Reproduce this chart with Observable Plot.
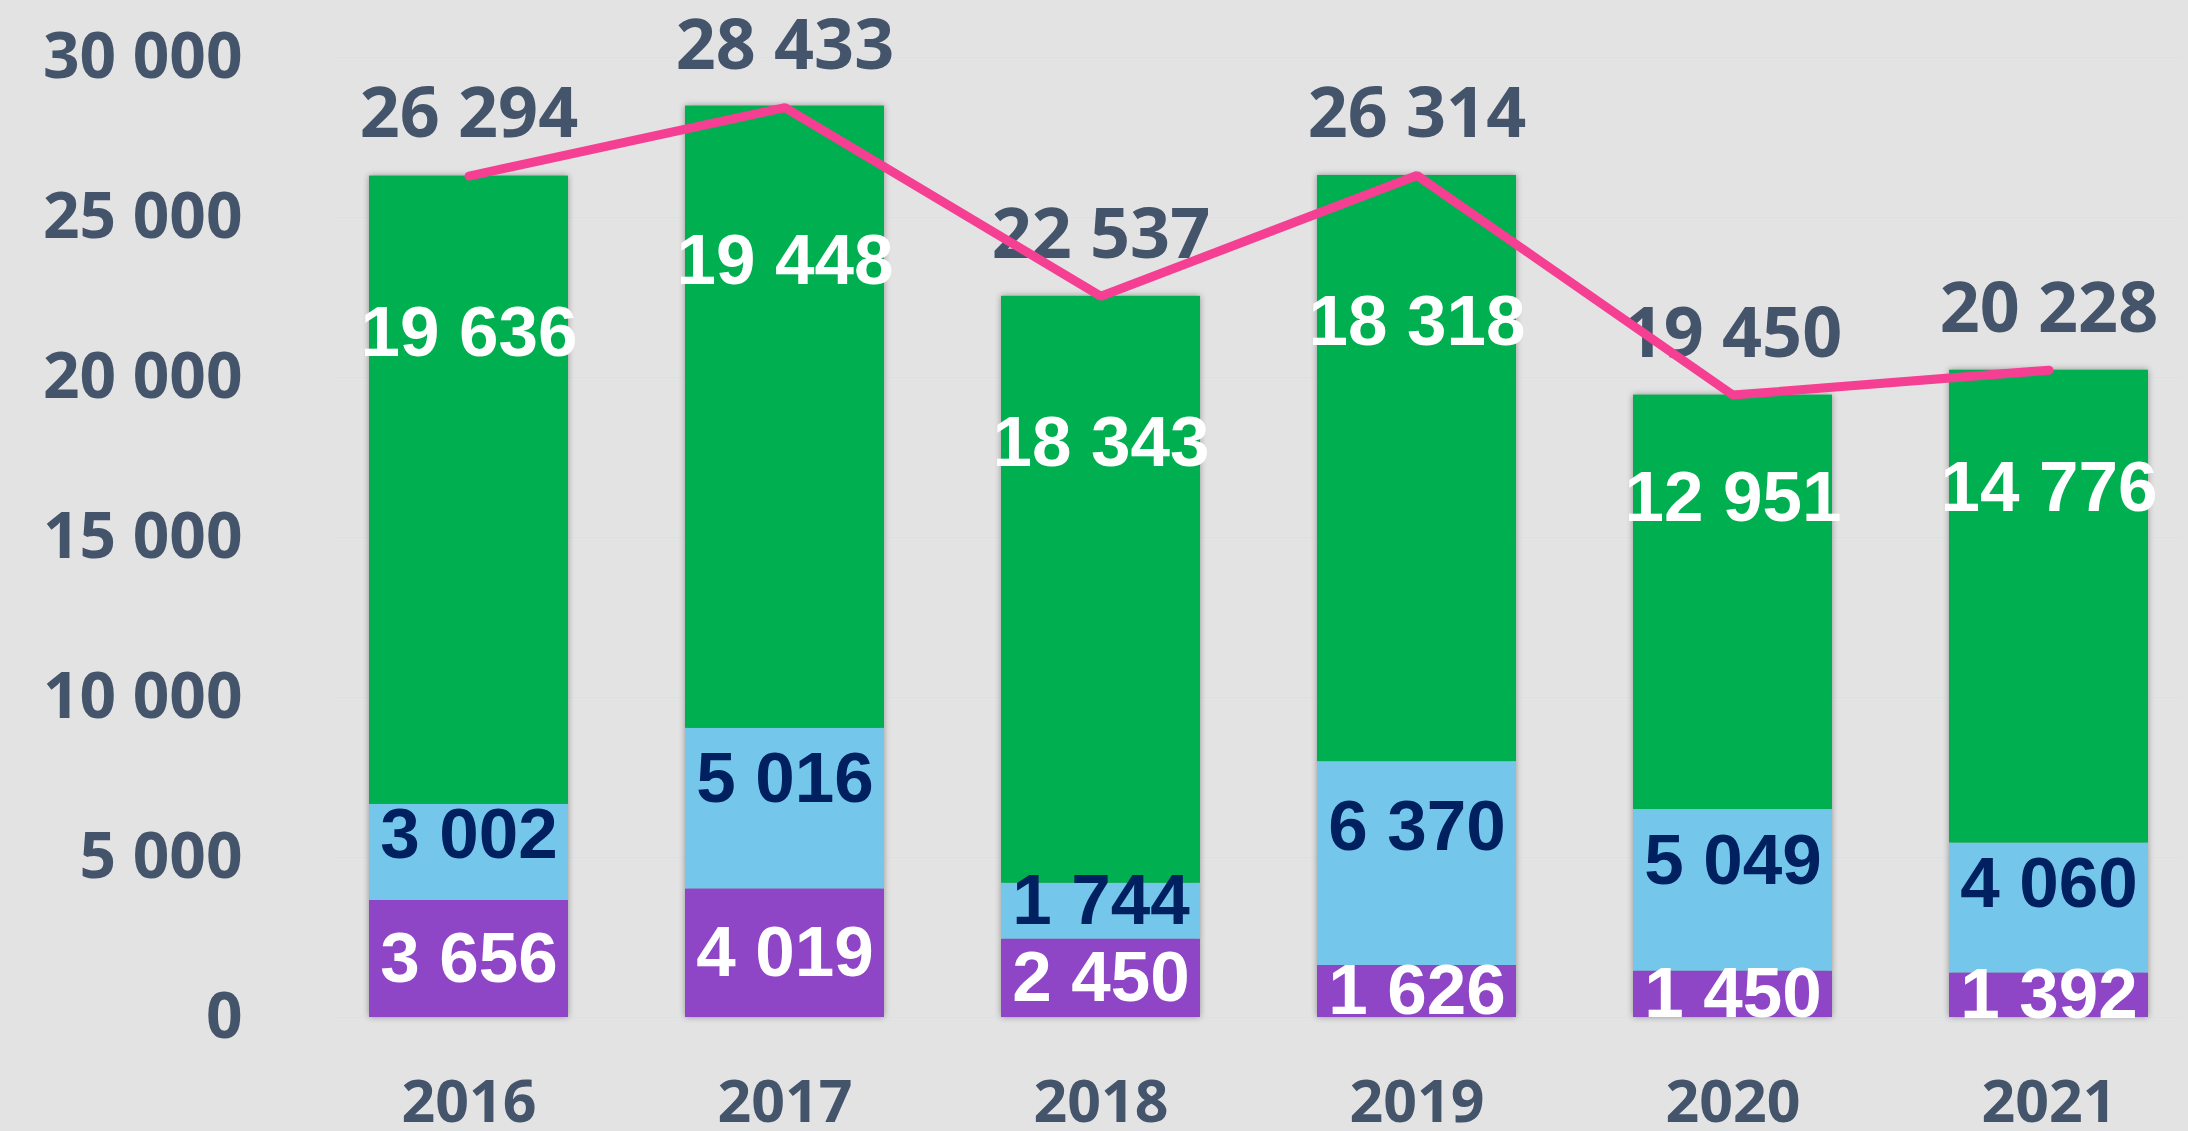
<!DOCTYPE html>
<html>
<head>
<meta charset="utf-8">
<script src="https://cdn.jsdelivr.net/npm/d3@7"></script>
<script src="https://cdn.jsdelivr.net/npm/@observablehq/plot@0.6"></script>
<style>
  html, body { margin: 0; padding: 0; background: #E3E3E3; }
  #chart svg { display: block; }
  #chart g[aria-label="bar"] { filter: drop-shadow(0 0 3px rgba(0,0,0,0.35)); }
</style>
</head>
<body>
<div id="chart"></div>
<script>
// ---- data ----
const years = ["2016", "2017", "2018", "2019", "2020", "2021"];
const purpleValues = [3656, 4019, 2450, 1626, 1450, 1392];
const blueValues = [3002, 5016, 1744, 6370, 5049, 4060];
const greenValues = [19636, 19448, 18343, 18318, 12951, 14776];
const totals = [26294, 28433, 22537, 26314, 19450, 20228];
const yTicks = [0, 5000, 10000, 15000, 20000, 25000, 30000];
const seriesNames = ["Série 1", "Série 2", "Série 3"];
const seriesColors = ["#8E45C6", "#74C6EA", "#00AF50"];

// ---- derived tables ----
const fmt = d3.formatLocale({decimal: ",", thousands: " ", grouping: [3], currency: ["", ""]}).format(",");

const rows = years.flatMap((yr, i) => [
  {year: yr, series: seriesNames[0], value: purpleValues[i]},
  {year: yr, series: seriesNames[1], value: blueValues[i]},
  {year: yr, series: seriesNames[2], value: greenValues[i]}
]);

const whiteLabels = years.flatMap((yr, i) => [
  {year: yr, pos: purpleValues[i] * 0.5, value: purpleValues[i]},
  {year: yr, pos: purpleValues[i] + blueValues[i] + greenValues[i] * 0.75, value: greenValues[i]}
]);
const navyLabels = years.map((yr, i) => ({
  year: yr, pos: purpleValues[i] + blueValues[i] * 0.68, value: blueValues[i]
}));
const totalRows = years.map((yr, i) => ({year: yr, total: totals[i]}));

const axisFont = "'Open Sans', 'DejaVu Sans', sans-serif";
const labelFont = "'Liberation Sans', Arial, sans-serif";

const chart = Plot.plot({
  width: 2188,
  height: 1131,
  marginLeft: 336,
  marginRight: 7,
  marginTop: 57,
  marginBottom: 114,
  style: {background: "#E3E3E3", fontFamily: axisFont},
  x: {domain: years, paddingInner: 0.371, paddingOuter: 0.1, label: null},
  y: {domain: [0, 30000], label: null},
  color: {domain: seriesNames, range: seriesColors},
  marks: [
    Plot.gridY(yTicks, {stroke: "#DAE1E9", strokeOpacity: 1, strokeWidth: 1.5}),
    Plot.barY(rows, {x: "year", y: "value", fill: "series"}),
    Plot.axisY({ticks: yTicks, tickSize: 0, tickPadding: 94, tickFormat: fmt,
      fontSize: 64, fontWeight: "bold", fontFamily: axisFont, color: "#44546A", label: null}),
    Plot.axisX({tickSize: 0, tickPadding: 63, fontSize: 59, fontWeight: "bold",
      fontFamily: axisFont, color: "#44546A", label: null}),
    Plot.text(totalRows, {x: "year", y: "total", text: d => fmt(d.total), dy: -61,
      fontSize: 70, fontWeight: "bold", fontFamily: axisFont, fill: "#44546A"}),
    Plot.line(totalRows, {x: "year", y: "total", stroke: "#F43F93", strokeWidth: 9,
      strokeLinecap: "round", strokeLinejoin: "miter"}),
    Plot.text(whiteLabels, {x: "year", y: "pos", text: d => fmt(d.value),
      fontSize: 71, fontWeight: "bold", fontFamily: labelFont, fill: "#FFFFFF"}),
    Plot.text(navyLabels, {x: "year", y: "pos", text: d => fmt(d.value),
      fontSize: 71, fontWeight: "bold", fontFamily: labelFont, fill: "#002060"})
  ]
});

document.getElementById("chart").appendChild(chart);
</script>
</body>
</html>
